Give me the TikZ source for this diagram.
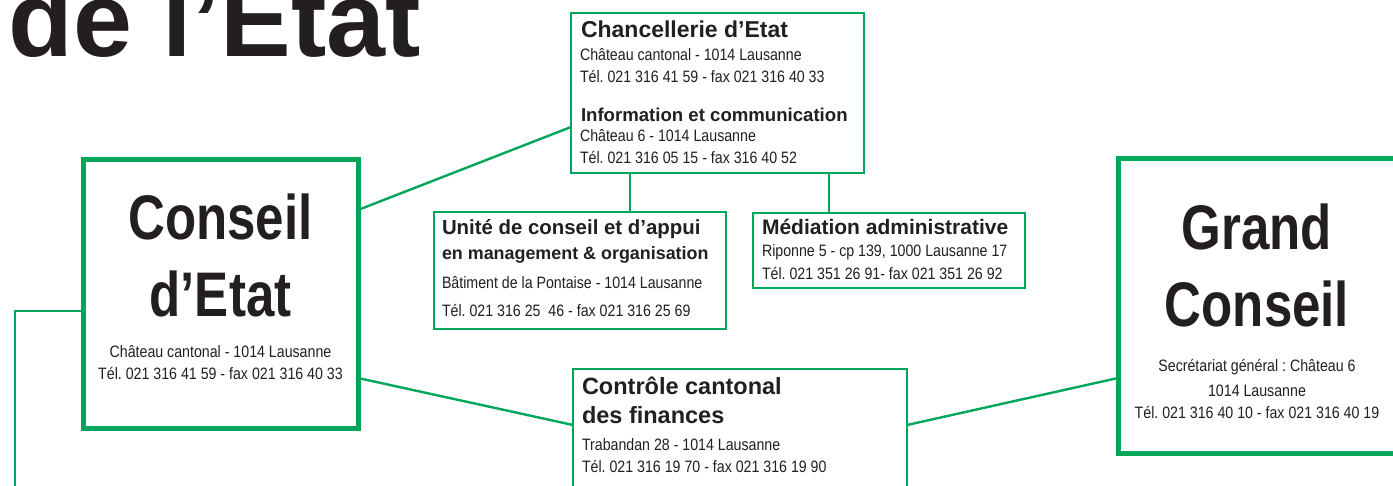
\documentclass[tikz,border=0pt]{standalone}
\usepackage{fontspec}
\setmainfont{Liberation Sans}
\newfontfamily\narrowf[FakeStretch=0.86]{Liberation Sans}
\newfontfamily\condb[FakeStretch=0.81,UprightFont=* Bold]{Liberation Sans}
\definecolor{vgreen}{RGB}{0,166,90}
\definecolor{ink}{RGB}{35,31,32}
\frenchspacing
\tikzset{
  every node/.style={inner sep=0pt, outer sep=0pt, text=ink},
  thinbox/.style={draw=vgreen, fill=white, line width=2.6pt},
  thickbox/.style={draw=vgreen, fill=white, line width=5pt},
  conn/.style={draw=vgreen, line width=2.4pt},
  small/.style={font=\narrowf\fontsize{16.5}{18}\selectfont, anchor=base west},
  smallc/.style={font=\narrowf\fontsize{16.5}{18}\selectfont, anchor=base},
  head/.style={font=\bfseries\fontsize{#1}{#1}\selectfont, anchor=base west},
  big/.style={font=\condb\fontsize{63}{63}\selectfont, anchor=base},
}
\begin{document}
\begin{tikzpicture}[x=1pt,y=-1pt]
\clip (0,0) rectangle (1393,486);
\fill[white] (0,0) rectangle (1393,486);

% title
\node[font=\bfseries\fontsize{106}{106}\selectfont, anchor=base west] (title) at (9,57) {de l’Etat};

% boxes (positions)
\coordinate (chc) at (717.5,93);
\coordinate (unc) at (580,270.5);
\coordinate (mec) at (889,250.5);
\coordinate (cec) at (220.5,294);
\coordinate (coc) at (740,444.5);
\coordinate (gcc) at (1269,306);

\path (cec) node[minimum width=275pt, minimum height=268pt] (ce) {};
\path (chc) node[minimum width=293pt, minimum height=160pt] (ch) {};
\path (unc) node[minimum width=292pt, minimum height=117pt] (un) {};
\path (mec) node[minimum width=272pt, minimum height=75pt] (me) {};
\path (coc) node[minimum width=334pt, minimum height=151pt] (co) {};
\path (gcc) node[minimum width=302pt, minimum height=294pt] (gc) {};

% connectors
\coordinate (lb) at (15,500);
\draw[conn] (ce.east |- 0,210) -- (ch.west |- 0,127);
\draw[conn] (ce.east |- 0,378) -- (co.west |- 0,425);
\draw[conn] (co.east |- 0,425) -- (gc.west |- 0,378);
\draw[conn] (ch.south -| 630,0) -- (un.north -| 630,0);
\draw[conn] (ch.south -| 829,0) -- (me.north -| 829,0);
\draw[conn] (ce.west |- 0,311) -| (lb);

% box outlines
\node[thinbox, minimum width=293pt, minimum height=160pt] (chb) at (chc) {};
\node[thinbox, minimum width=292pt, minimum height=117pt] (unb) at (unc) {};
\node[thinbox, minimum width=272pt, minimum height=75pt] (meb) at (mec) {};
\node[thinbox, minimum width=334pt, minimum height=151pt] (cob) at (coc) {};
\node[thickbox, minimum width=275pt, minimum height=268pt] (ceb) at (cec) {};
\node[thickbox, minimum width=302pt, minimum height=294pt] (gcb) at (gcc) {};

% Chancellerie
\node[head=23] (ch1) at (581,38) {Chancellerie d’Etat};
\node[small] (ch2) at (580,61) {Château cantonal - 1014 Lausanne};
\node[small] (ch3) at (580,83) {Tél. 021 316 41 59 - fax 021 316 40 33};
\node[head=18.6] (ch4) at (581,122) {Information et communication};
\node[small] (ch5) at (580,142) {Château 6 - 1014 Lausanne};
\node[small] (ch6) at (580,164) {Tél. 021 316 05 15 - fax 316 40 52};

% Unite
\node[head=20.4] (un1) at (442,235) {Unité de conseil et d’appui};
\node[head=17.9] (un2) at (442,260) {en management \& organisation};
\node[small] (un3) at (442,289) {Bâtiment de la Pontaise - 1014 Lausanne};
\node[small] (un4) at (442,317) {Tél. 021 316 25\ \ 46 - fax 021 316 25 69};

% Mediation
\node[head=21] (me1) at (762,235) {Médiation administrative};
\node[small] (me2) at (762,257) {Riponne 5 - cp 139, 1000 Lausanne 17};
\node[small] (me3) at (762,280) {Tél. 021 351 26 91- fax 021 351 26 92};

% Controle
\node[head=23.5] (co1) at (582,395) {Contrôle cantonal};
\node[head=23.5] (co2) at (582,423) {des finances};
\node[small] (co3) at (582,450) {Trabandan 28 - 1014 Lausanne};
\node[small] (co4) at (582,472) {Tél. 021 316 19 70 - fax 021 316 19 90};

% Conseil d'Etat
\node[big] (ce1) at (220.5,240) {Conseil};
\node[big] (ce2) at (220.5,317) {d’Etat};
\node[smallc] (ce3) at (220.5,358) {Château cantonal - 1014 Lausanne};
\node[smallc] (ce4) at (220.5,380) {Tél. 021 316 41 59 - fax 021 316 40 33};

% Grand Conseil
\node[big] (gc1) at (1257,250) {Grand};
\node[big] (gc2) at (1257,327) {Conseil};
\node[smallc] (gc3) at (1257,372) {Secrétariat général : Château 6};
\node[smallc] (gc4) at (1257,396) {1014 Lausanne};
\node[smallc] (gc5) at (1257,418) {Tél. 021 316 40 10 - fax 021 316 40 19};
\end{tikzpicture}
\end{document}
